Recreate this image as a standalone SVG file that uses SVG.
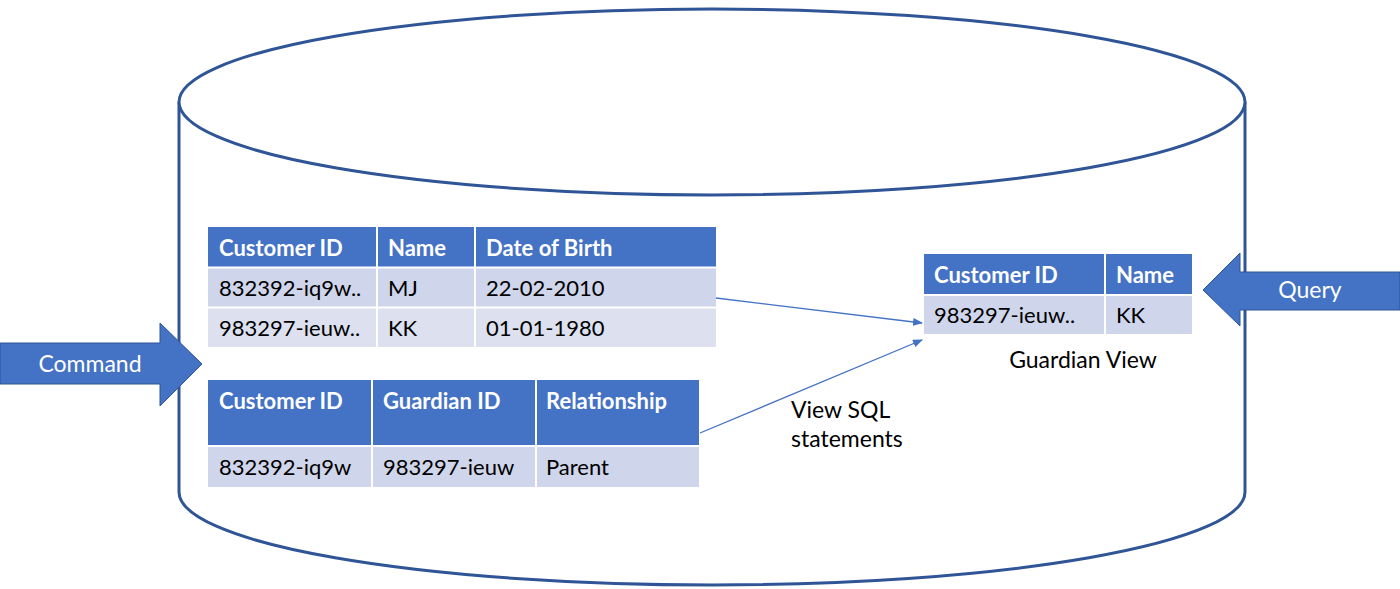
<svg xmlns="http://www.w3.org/2000/svg" width="1400" height="589" viewBox="0 0 1400 589">
<defs>
<style>
.cyl{fill:#fff;stroke:#2F5597;stroke-width:3}
.hd{fill:#4472C4}
.r1{fill:#CFD5EA}
.r2{fill:#DCE0EF}
.ht{font-family:Lato,"Open Sans",sans-serif;font-weight:bold;font-size:22px;fill:#fff}
.ct{font-family:Lato,"Open Sans",sans-serif;font-size:22px;fill:#000}
.lt{font-family:Lato,"Open Sans",sans-serif;font-size:23px;fill:#000}
.at{font-family:Lato,"Open Sans",sans-serif;font-size:23px;fill:#fff}
.arr{fill:#4472C4;stroke:#2F5597;stroke-width:1}
.con{stroke:#4472C4;stroke-width:1.3;fill:none;marker-end:url(#ah)}
.sep{stroke:#fff;stroke-width:2}
</style>
<marker id="ah" markerWidth="10" markerHeight="8" refX="9" refY="4" orient="auto" markerUnits="userSpaceOnUse">
<path d="M0,0 L10,4 L0,8 Z" fill="#4472C4"/>
</marker>
</defs>
<g id="cylinder">
<path class="cyl" d="M179,102 L179,492 A533,93 0 0 0 1245,492 L1245,102"/>
<ellipse class="cyl" cx="712" cy="102" rx="533" ry="93"/>
</g>
<g id="customer-table">
<rect class="hd" x="208" y="227" width="508" height="40"/>
<rect class="r1" x="208" y="268" width="508" height="39"/>
<rect class="r2" x="208" y="308" width="508" height="39"/>
<line class="sep" x1="377" y1="227" x2="377" y2="347"/>
<line class="sep" x1="475" y1="227" x2="475" y2="347"/>
<line class="sep" x1="208" y1="267.5" x2="716" y2="267.5"/>
<line class="sep" x1="208" y1="307.5" x2="716" y2="307.5"/>
<text class="ht" x="219" y="256">Customer ID</text>
<text class="ht" x="388" y="256">Name</text>
<text class="ht" x="486" y="256">Date of Birth</text>
<text class="ct" x="219" y="296">832392-iq9w..</text>
<text class="ct" x="388" y="296">MJ</text>
<text class="ct" x="486" y="296">22-02-2010</text>
<text class="ct" x="219" y="336">983297-ieuw..</text>
<text class="ct" x="388" y="336">KK</text>
<text class="ct" x="486" y="336">01-01-1980</text>
</g>
<g id="guardian-table">
<rect class="hd" x="208" y="380" width="491" height="65"/>
<rect class="r1" x="208" y="447" width="491" height="40"/>
<line class="sep" x1="372" y1="380" x2="372" y2="487"/>
<line class="sep" x1="536" y1="380" x2="536" y2="487"/>
<line class="sep" x1="208" y1="446" x2="699" y2="446"/>
<text class="ht" x="219" y="409">Customer ID</text>
<text class="ht" x="383" y="409">Guardian ID</text>
<text class="ht" x="546" y="409">Relationship</text>
<text class="ct" x="219" y="475">832392-iq9w</text>
<text class="ct" x="383" y="475">983297-ieuw</text>
<text class="ct" x="546" y="475">Parent</text>
</g>
<g id="guardian-view">
<rect class="hd" x="924" y="254" width="268" height="40"/>
<rect class="r1" x="924" y="296" width="268" height="38"/>
<line class="sep" x1="1105" y1="254" x2="1105" y2="334"/>
<line class="sep" x1="924" y1="295" x2="1192" y2="295"/>
<text class="ht" x="934" y="283">Customer ID</text>
<text class="ht" x="1116" y="283">Name</text>
<text class="ct" x="934" y="323">983297-ieuw..</text>
<text class="ct" x="1116" y="323">KK</text>
<text class="lt" x="1083" y="368" text-anchor="middle">Guardian View</text>
</g>
<g id="command">
<path class="arr" d="M0,343 L160,343 L160,323 L202,364 L160,406 L160,384 L0,384 Z"/>
<text class="at" x="90" y="372" text-anchor="middle">Command</text>
</g>
<g id="query">
<path class="arr" d="M1400,272 L1240,272 L1240,253 L1203,290 L1240,326 L1240,310 L1400,310 Z"/>
<text class="at" x="1310" y="298" text-anchor="middle">Query</text>
</g>
<g id="connectors">
<line class="con" x1="716" y1="298" x2="922" y2="323"/>
<line class="con" x1="700" y1="433" x2="922" y2="340"/>
</g>
<g id="label">
<text class="lt" x="791" y="418">View SQL</text>
<text class="lt" x="791" y="447">statements</text>
</g>
</svg>
